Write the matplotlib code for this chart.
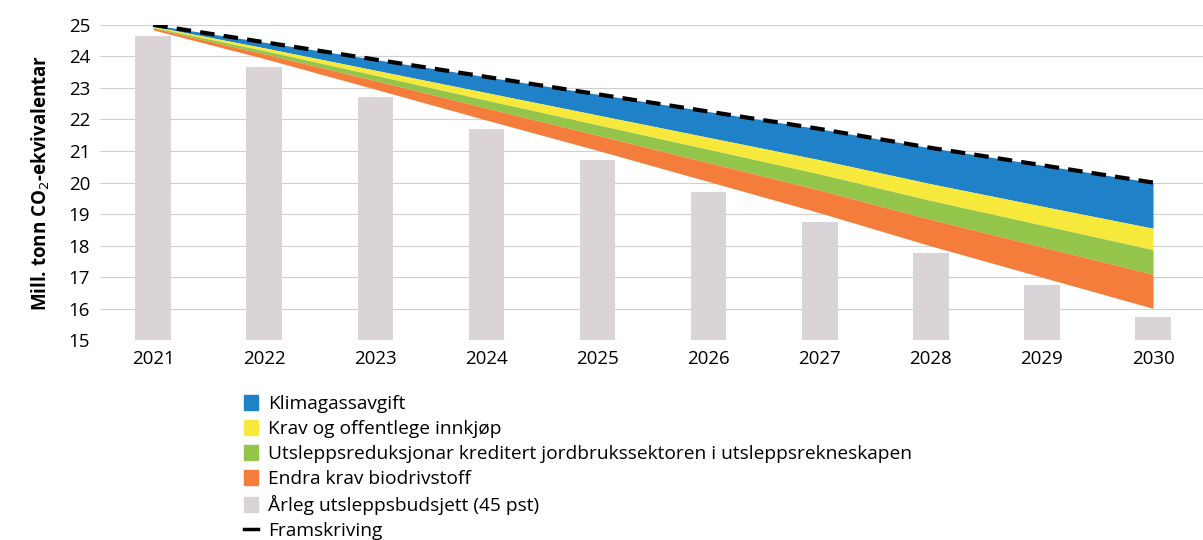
import numpy as np
import matplotlib.pyplot as plt
from matplotlib.patches import Patch
from matplotlib.lines import Line2D

plt.rcParams['font.family'] = ['Open Sans', 'DejaVu Sans']

# Data (mill. tonn CO2-ekv.)
years = [2021, 2022, 2023, 2024, 2025, 2026, 2027, 2028, 2029, 2030]
framskriving = [25.0, 24.45, 23.9, 23.35, 22.8, 22.25, 21.7, 21.1, 20.55, 20.0]
klimagassavgift = [0.05, 0.18, 0.34, 0.50, 0.66, 0.82, 0.98, 1.14, 1.30, 1.45]
krav_innkjop = [0.03, 0.09, 0.16, 0.24, 0.31, 0.38, 0.45, 0.53, 0.60, 0.68]
jordbruk = [0.03, 0.10, 0.17, 0.25, 0.33, 0.42, 0.51, 0.60, 0.69, 0.78]
biodrivstoff = [0.05, 0.15, 0.27, 0.38, 0.48, 0.60, 0.72, 0.84, 0.96, 1.08]
budsjett = [24.65, 23.65, 22.7, 21.7, 20.7, 19.7, 18.75, 17.75, 16.75, 15.75]

labels = ['Klimagassavgift',
          'Krav og offentlege innkjøp',
          'Utsleppsreduksjonar kreditert jordbrukssektoren i utsleppsrekneskapen',
          'Endra krav biodrivstoff',
          'Årleg utsleppsbudsjett (45 pst)',
          'Framskriving']
colors = ['#1f82c8', '#f7e83c', '#93c54b', '#f57d3c']
bar_color = '#dad4d9'

fig = plt.figure(figsize=(12.03, 5.4), dpi=100)
ax = fig.add_axes([0.083, 0.37, 0.917, 0.584])

x = np.array(years)
ax.bar(x, budsjett, width=0.32, color=bar_color, zorder=2)

# stacked reductions going down from the projection
top = np.array(framskriving)
for vals, c in zip([klimagassavgift, krav_innkjop, jordbruk, biodrivstoff], colors):
    bottom = top - np.array(vals)
    ax.fill_between(x, bottom, top, color=c, linewidth=0, zorder=3)
    top = bottom

ax.plot(x, framskriving, color='black', linewidth=3, dashes=(3.5, 2.2), zorder=4)

ax.set_ylim(15, 25)
ax.set_xlim(2020.52, 2030.45)
ax.set_yticks(range(15, 26))
ax.set_xticks(years)
ax.grid(axis='y', color='#cfcfcf', linewidth=0.8, zorder=0)
ax.set_axisbelow(True)
for s in ax.spines.values():
    s.set_visible(False)
ax.tick_params(length=0, labelsize=13.5, pad=7)
ax.set_ylabel('Mill. tonn CO$_2$-ekvivalentar', fontsize=13.5, fontweight='bold', labelpad=12)

handles = [Patch(color=c) for c in colors] + [Patch(color=bar_color),
           Line2D([], [], color='black', linewidth=2.5)]
fig.legend(handles, labels, loc='upper left', bbox_to_anchor=(0.203, 0.268),
           frameon=False, fontsize=13.8, handlelength=0.7, handleheight=0.8,
           handletextpad=0.55, labelspacing=0.36, borderaxespad=0, borderpad=0)

plt.savefig('out.png', dpi=100)
